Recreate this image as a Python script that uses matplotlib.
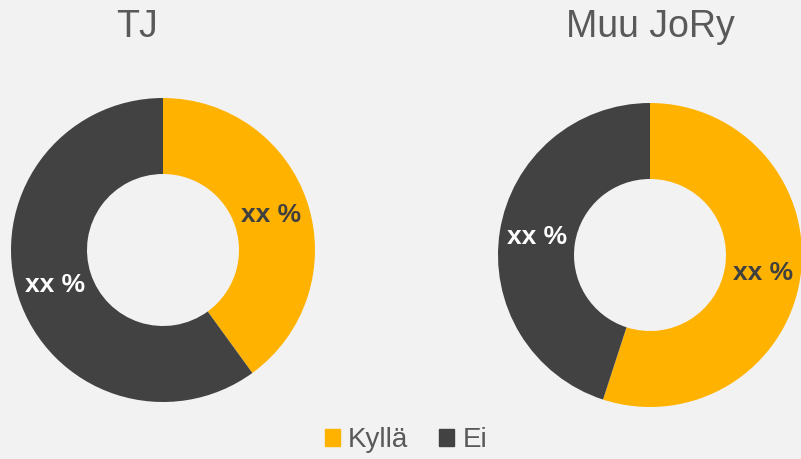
import matplotlib.pyplot as plt
import matplotlib.patches as patch
import numpy as np

plt.rcParams['font.family'] = ['Liberation Sans', 'DejaVu Sans']

# data
groups = ["TJ", "Muu JoRy"]
categories = ["Kyllä", "Ei"]
values = [[40, 60], [55, 45]]
labels = [["xx %", "xx %"], ["xx %", "xx %"]]
colors = ['#FFB300', '#424242']
textColors = ['#404040', 'white']

W, H = 801, 459
bg = '#F2F2F2'
fig = plt.figure(figsize=(W / 100, H / 100), dpi=100, facecolor=bg)

# donut boxes in pixels (left, top, size)
boxes = [(11, 98, 304), (498, 103, 304)]
titleX = [137, 650]

for g, (x0, y0, s) in enumerate(boxes):
    ax = fig.add_axes([x0 / W, (H - y0 - s) / H, s / W, s / H])
    ax.set_facecolor(bg)
    wedges, texts = ax.pie(values[g], colors=colors, startangle=90, counterclock=False,
                           radius=1, wedgeprops=dict(width=0.5, linewidth=0))
    # labels in the middle of the ring
    for i, w in enumerate(wedges):
        ang = np.deg2rad((w.theta1 + w.theta2) / 2)
        ax.text(0.75 * np.cos(ang), 0.75 * np.sin(ang), labels[g][i], ha='center', va='center',
                fontsize=19, fontweight='bold', color=textColors[i])
    ax.set_xlim(-1, 1)
    ax.set_ylim(-1, 1)
    ax.set_aspect('equal')
    ax.axis('off')
    fig.text(titleX[g] / W, 1 - 27 / H, groups[g], ha='center', va='center',
             fontsize=27, color='#595959')

handles = [patch.Patch(color=colors[i], label=categories[i]) for i in range(2)]
fig.legend(handles=handles, loc='center', bbox_to_anchor=(406 / W, 1 - 440 / H), ncol=2,
           frameon=False, fontsize=20, labelcolor='#595959', handlelength=0.55, handleheight=0.55,
           handletextpad=0.3, columnspacing=1.1)

fig.savefig('out.png', dpi=100, facecolor=bg)
